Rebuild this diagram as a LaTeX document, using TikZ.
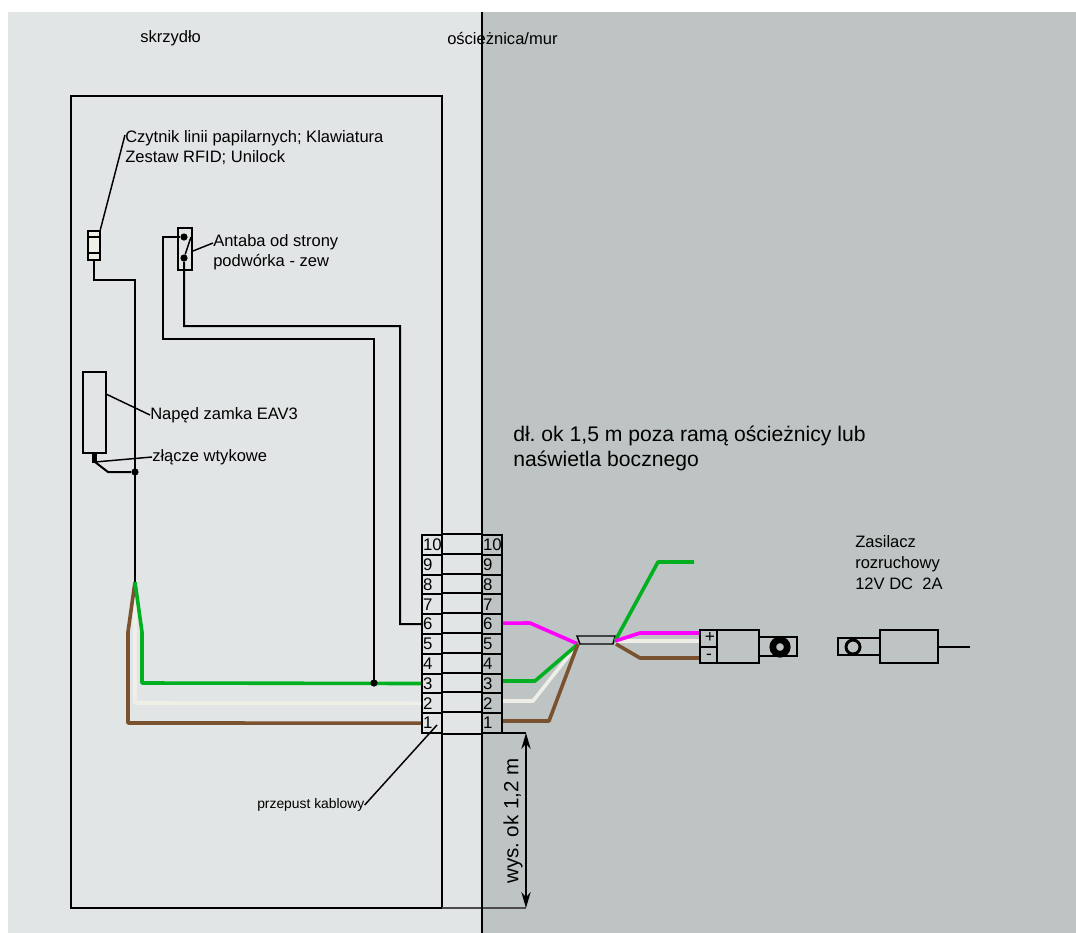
\documentclass[tikz,border=0pt]{standalone}
\usepackage{fontspec}
\usetikzlibrary{arrows.meta}
\setmainfont{Liberation Sans}
\definecolor{wingbg}{HTML}{E1E5E5}
\definecolor{wallbg}{HTML}{BEC4C3}
\definecolor{wiregreen}{HTML}{00B020}
\definecolor{wirebrown}{HTML}{7A5230}
\definecolor{wirewhite}{HTML}{EFEFE8}
\definecolor{wirepink}{HTML}{FF00FF}
\tikzset{
  line/.style={black, line width=1.5pt},
  thinline/.style={black, line width=1.1pt},
  wire/.style={line width=2.7pt, line join=round},
  lbl/.style={anchor=west, inner sep=0pt, font=\fontsize{12.4}{14}\selectfont},
  bigl/.style={anchor=west, inner sep=0pt, font=\fontsize{15.4}{18}\selectfont},
  cell/.style={draw, line width=1.5pt, text width=15pt, minimum height=14.85pt, inner sep=0pt, align=left, font=\fontsize{12.6}{14}\selectfont},
  dot/.style={circle, fill=black, inner sep=0pt, minimum size=5.4pt},
}
\begin{document}
\frenchspacing
\begin{tikzpicture}[x=0.75pt, y=-0.75pt]
    \useasboundingbox (0,0) rectangle (1076,933);
    \fill[wingbg] (8,12) rectangle (482,933);
    \fill[wallbg] (482,12) rectangle (1076,933);

    \draw[line] (71,96) rectangle (442,908);

    \node[lbl] (wing) at (140,38) {skrzydło};
    \node[lbl] (frame) at (447,38) {ościeżnica/mur};
    \node[lbl, align=left, anchor=north west] (readerlbl) at (125,130) {Czytnik linii papilarnych; Klawiatura\\[1.2pt]Zestaw RFID; Unilock};
    \node[lbl, align=left, anchor=north west] (handlelbl) at (213,234) {Antaba od strony\\[1.2pt]podwórka - zew};
    \node[lbl] (drivelbl) at (150,415) {Napęd zamka EAV3};
    \node[lbl] (pluglbl) at (152,457) {złącze wtykowe};
    \node[anchor=west, inner sep=0pt, font=\fontsize{10.4}{12}\selectfont] (ductlbl) at (257,805) {przepust kablowy};
    \node[anchor=north west, inner sep=0pt, align=left, font=\fontsize{15.85}{18}\selectfont] (lengthlbl) at (513,426) {dł. ok 1,5 m poza ramą ościeżnicy lub\\[0.8pt]naświetla bocznego};
    \node[lbl, align=left, anchor=north west] (psulbl) at (855,535) {Zasilacz\\[2pt]rozruchowy\\[2pt]12V DC\ \ 2A};
    \node[bigl, anchor=center, rotate=90] (heightlbl) at (513,821) {wys. ok 1,2 m};

    % terminal block
    \foreach \n in {1,...,10} {
        \node[cell] (l\n) at (432,{733-19.8*\n+9.9}) {\hspace{0.8pt}\n};
        \node[cell] (r\n) at (492,{733-19.8*\n+9.9}) {\hspace{0.8pt}\n};
        \draw[line] (l\n.north east) -- (r\n.north west);
    }
    \draw[line] (l1.south east) -- (r1.south west);

    % reader
    \coordinate (readertop) at (100,231);
    \coordinate (readerbot) at (94,260);
    \coordinate (readerknee) at (94,280);
    \coordinate (trunkknee) at (135,280);
    \coordinate (readerlead) at (125,135);
    \coordinate (split) at (135,582);
    \draw[line, fill=wirewhite] (88,231) rectangle (100,260);
    \draw[thinline] (88,237) -- (100,237);
    \draw[thinline] (88,253) -- (100,253);
    \draw[thinline] (readertop) -- (readerlead);
    \draw[line] (readerbot) -- (readerknee) -- (trunkknee) -- (split);

    % handle
    \draw[line] (178,228) rectangle (192,270);
    \node[dot] (contactA) at (184,237) {};
    \node[dot] (contactB) at (184,258) {};
    \coordinate (handlelead) at (213,243);
    \draw[thinline] (contactB) -- (191,237);
    \draw[thinline] (193,251) -- (handlelead);
    \draw[line] (contactB) -- (184,326) -- (400,326) -- (400,624) -- (l6.west);
    \draw[line] (contactA) -- (163,237) -- (163,339) -- (374,339) -- (374,683);

    % drive
    \draw[line] (83,372) rectangle (106,453);
    \fill (92,453) rectangle (97,463);
    \node[dot] (teedot) at (135,472) {};
    \coordinate (plug) at (95,462);
    \draw[thinline] (106,394) -- (drivelbl.west);
    \draw[thinline] (plug) -- (pluglbl.west);
    \draw[line] (plug) -- (108,472) -- (teedot);

    % wires wing
    \draw[wire, wirewhite] (split) -- (135,703) -- (l2.west);
    \draw[wire, wirebrown] (split) -- (128,632) -- (128,723) -- (l1.west);
    \draw[wire, wiregreen] (split) -- (142,632) -- (142,683) -- (l3.west);
    \node[dot] (greendot) at (374,683) {};

    % sleeve
    \coordinate (sleeveL) at (578,644);
    \coordinate (sleeveR) at (615,641);
    \draw[wire, wirepink] ([yshift=0.7pt]r6.east) -- (530,623) -- (sleeveL);
    \draw[wire, wirewhite] (r2.east |- 0,701) -- (533,701) -- (sleeveL);
    \draw[wire, wiregreen] (r3.east |- 0,681) -- (535,681) -- (sleeveL);
    \draw[wire, wirebrown] (r1.east |- 0,721) -- (549,721) -- (sleeveL);
    \draw[thinline, fill=wallbg] (577,636) -- (615,636) -- (613,644) -- (580,644) -- cycle;
    \draw[wire, wirewhite] (sleeveR) -- (700,641);
    \draw[wire, wiregreen] (sleeveR) -- (658,562) -- (694,562);
    \draw[wire, wirepink] (sleeveR) -- (640,633) -- (700,633);
    \draw[wire, wirebrown] (616,644) -- (640,658) -- (700,658);

    % connector
    \draw[line, fill=wallbg] (759,637) rectangle (797,656);
    \draw[line] (700,630) rectangle (759,663);
    \draw[line] (717,630) -- (717,663);
    \draw[line] (700,647) -- (717,647);
    \node[inner sep=0pt, font=\fontsize{13}{13}\selectfont] (plus) at (710,637) {+};
    \node[inner sep=0pt, font=\fontsize{13}{13}\selectfont] (minus) at (709,657) {-};
    \draw[black, line width=5pt] (780,647) circle (7.2);

    % power supply
    \draw[line] (838,638) rectangle (880,655);
    \draw[line] (880,630) rectangle (938,663);
    \draw[black, line width=2.2pt] (853,647) circle (7);
    \draw[thinline] (938,647) -- (970,647);

    % duct and height
    \draw[thinline] (ductlbl.east) -- (437,725);
    \draw[black!70, line width=1pt] (442,908) -- (526,908);
    \draw[black, line width=0.9pt] (502,733) -- (526,733);
    \draw[black, line width=0.9pt, {Stealth[width=7pt,length=12pt]}-{Stealth[width=7pt,length=12pt]}] (526,733) -- (526,908);

    \draw[black, line width=1.7pt] (482,12) -- (482,933);
\end{tikzpicture}
\end{document}
